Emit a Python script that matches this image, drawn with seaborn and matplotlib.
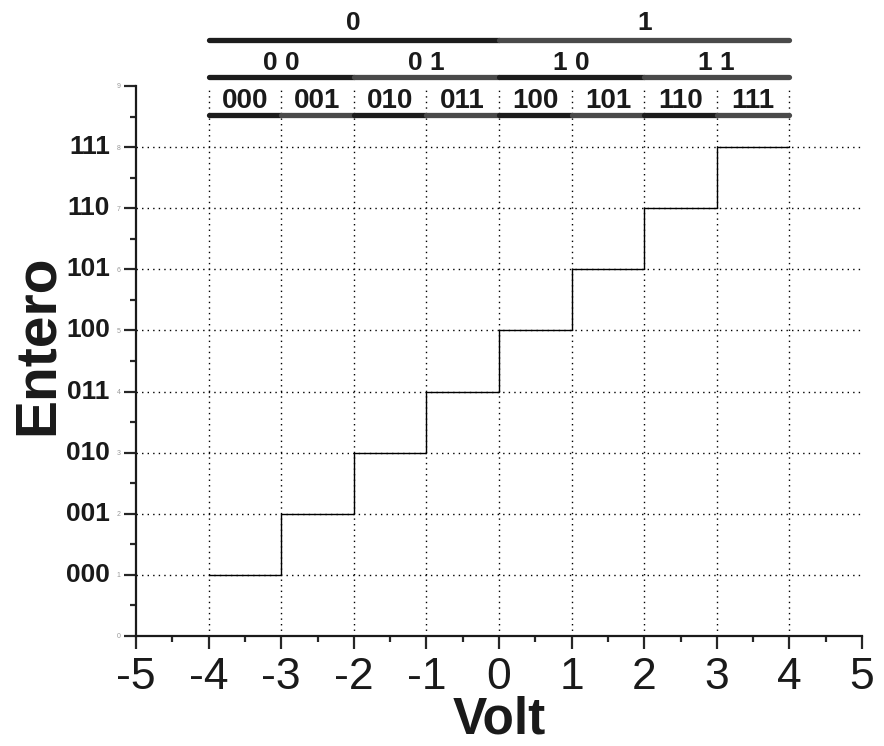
import pandas as pd
import matplotlib.pyplot as plt
import seaborn as sns

# Data
volt = [-4, -3, -2, -1, 0, 1, 2, 3, 4]
entero = [1, 2, 3, 4, 5, 6, 7, 8, 8]
codes = ["000", "001", "010", "011", "100", "101", "110", "111"]
code_levels = [1, 2, 3, 4, 5, 6, 7, 8]
bit1 = ["0", "1"]
bit2 = ["0 0", "0 1", "1 0", "1 1"]
bit3 = codes
x_ticks = [-5, -4, -3, -2, -1, 0, 1, 2, 3, 4, 5]
y_ticks = [0, 1, 2, 3, 4, 5, 6, 7, 8, 9]
grid_x = [-4, -3, -2, -1, 0, 1, 2, 3, 4]
grid_y = [1, 2, 3, 4, 5, 6, 7, 8]

sns.set_style("ticks")
plt.rcParams['font.family'] = ['Liberation Sans', 'DejaVu Sans']
plt.rcParams['axes.unicode_minus'] = False

fig = plt.figure(figsize=(8.84, 7.46), dpi=100)
ax = fig.add_axes([136/884, 1 - 636/746, 726/884, 550/746])

# dotted grid
ax.vlines(grid_x, 0, 9, colors="black", linestyles=(0, (1, 3)), lw=1)
ax.hlines(grid_y, -5, 5, colors="black", linestyles=(0, (1, 3)), lw=1)

# step line
df = pd.DataFrame({"Volt": volt, "Entero": entero})
sns.lineplot(data=df, x="Volt", y="Entero", drawstyle="steps-post",
             color="black", lw=1, sort=False, ax=ax)

ax.set_xlim(-5, 5)
ax.set_ylim(0, 9)
ax.set_xticks(x_ticks)
ax.set_xticks([t + 0.5 for t in x_ticks[:-1]], minor=True)
ax.set_yticks(y_ticks)
ax.set_yticks([t + 0.5 for t in y_ticks[:-1]], minor=True)
ax.tick_params(axis="x", which="major", length=9, width=1.6, labelsize=32, pad=6,
               labelcolor="#1a1a1a")
ax.tick_params(axis="y", which="major", length=9, width=1.6, labelsize=5,
               labelcolor="#999999", pad=2)
ax.tick_params(which="minor", length=4.5, width=1.6)
for s in ["top", "right"]:
    ax.spines[s].set_visible(False)
for s in ["left", "bottom"]:
    ax.spines[s].set_linewidth(1.6)
    ax.spines[s].set_color("#1a1a1a")

ax.set_xlabel("Volt", fontsize=37, fontweight="bold", color="#1a1a1a", va="baseline")
ax.xaxis.set_label_coords(0.5, -(734 - 636) / 550)
ax.set_ylabel("Entero", fontsize=41, fontweight="bold", color="#1a1a1a")
ax.yaxis.set_label_coords(-0.098, 0.53)

# binary codes next to the y axis
ytr = ax.get_yaxis_transform()
for c, lv in zip(codes, code_levels):
    ax.text(-0.036, lv, c, transform=ytr, ha="right", va="center",
            fontsize=19, fontweight="bold", color="#1a1a1a")

# code bars on top
bar_colors = ["#1c1c1c", "#4a4a4a"]
levels = [(bit1, 9.75, 10.03, 19), (bit2, 9.15, 9.38, 19), (bit3, 8.53, 8.76, 20)]
for labels, ybar, ytxt, fs in levels:
    w = (volt[-1] - volt[0]) / len(labels)
    for i, lab in enumerate(labels):
        x0 = volt[0] + i * w
        ax.plot([x0, x0 + w], [ybar, ybar], color=bar_colors[i % 2], lw=3.8,
                solid_capstyle="round", clip_on=False)
        ax.text(x0 + w / 2, ytxt, lab, ha="center", va="center", fontsize=fs,
                fontweight="bold", color="#1a1a1a", clip_on=False)

fig.savefig("out.png", dpi=100)
